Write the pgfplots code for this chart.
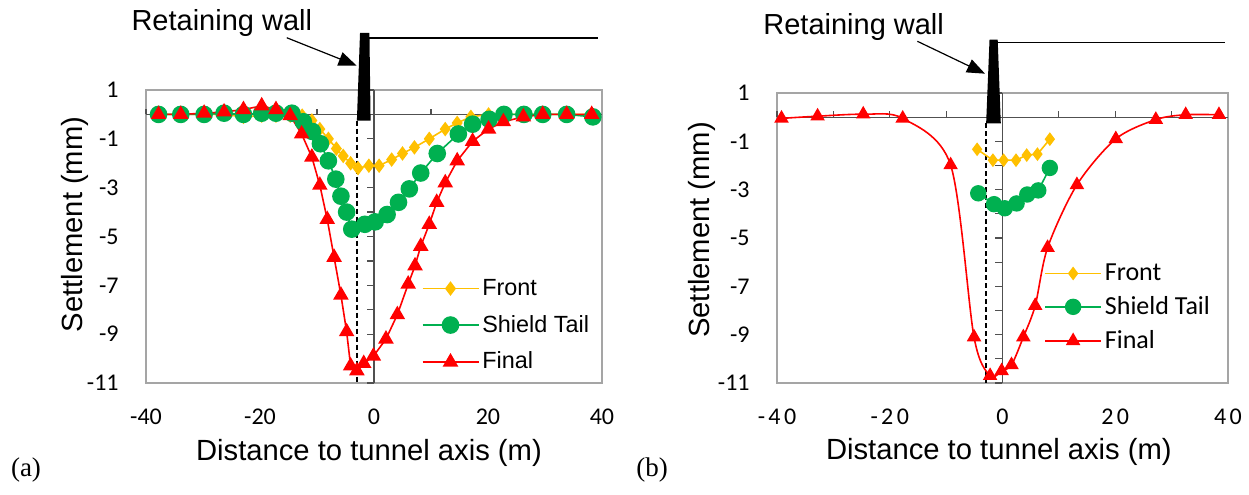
\documentclass[border=0pt]{standalone}
\usepackage{fontspec}
\setmainfont{Liberation Sans}
\newfontfamily\calib{Carlito}
\newfontfamily\serif{Liberation Serif}
\usepackage{pgfplots}
\pgfplotsset{compat=1.18}
\usetikzlibrary{arrows.meta}

\definecolor{cfront}{RGB}{255,192,0}
\definecolor{cshield}{RGB}{0,176,80}
\definecolor{cfinal}{RGB}{255,0,0}
\definecolor{cframe}{RGB}{165,165,165}
\definecolor{caxis}{RGB}{80,80,80}

\pgfplotsset{
  settle/.style={
    scale only axis, clip=false,
    xmin=-40, xmax=40, ymin=-11, ymax=1,
    axis line style={cframe, line width=0.6pt},
    major tick length=0pt,
    xtick={-40,-20,0,20,40},
    xticklabels={-40,-20,0,20,40},
    ytick={-11,-9,-7,-5,-3,-1,1},
    yticklabels={-11,-9,-7,-5,-3,-1,1},
    ticklabel style={font=\calib\fontsize{12}{14}\selectfont, inner sep=0pt},
    yticklabel style={anchor=east, xshift=-13.5pt},
    xticklabel style={anchor=north, yshift=-13pt},
    label style={font=\fontsize{14.6}{17}\selectfont},
    legend cell align=left,
    legend image code/.code={\draw[mark repeat=2,mark phase=2,#1]
      plot coordinates {(0pt,0pt) (14pt,0pt) (28pt,0pt)};},
  },
}

\begin{document}
\begin{tikzpicture}
\useasboundingbox (0,0) rectangle (624.5pt,247pt);

% ---------------- (a)
\begin{axis}[settle,
  at={(73pt,55.5pt)}, anchor=south west,
  width=228pt, height=146.5pt,
  xlabel={Distance to tunnel axis (m)},
  ylabel={Settlement (mm)},
  xlabel style={at={(axis description cs:0.489,-0.239)}, anchor=center},
  ylabel style={at={(axis description cs:-0.156,0.541)}, anchor=center},
  legend style={at={(axis cs:8.3,-6.6)}, anchor=north west, draw=none,
    fill=none, inner sep=0pt, row sep=5.5pt,
    font=\fontsize{11.7}{13}\selectfont, nodes={inner sep=1.5pt}},
]
\draw[caxis, line width=0.6pt] (axis cs:-40,0) -- (axis cs:40,0);
\draw[caxis, line width=0.6pt] (axis cs:0,-11) -- (axis cs:0,1);
\pgfplotsinvokeforeach{-40,-30,-20,-10,10,20,30}{
  \draw[caxis, line width=0.6pt] (axis cs:#1,0) -- ++(0pt,2.5pt);}
\pgfplotsinvokeforeach{-11,...,1}{
  \draw[caxis, line width=0.6pt] (axis cs:0,#1) -- ++(-3.5pt,0pt);}
\draw[black, line width=0.7pt, dash pattern=on 2.5pt off 1.5pt]
  (axis cs:-3,-0.25) -- (axis cs:-3,-11);

\addplot[cfront, line width=0.8pt, mark=diamond*, mark size=3pt,
  mark options={solid, fill=cfront}] coordinates {
  (-37.8,0) (-33.9,0) (-29.8,0) (-26.3,0) (-22.9,-0.1) (-19.7,-0.05)
  (-17.2,-0.05) (-14.7,-0.05) (-12.6,-0.05) (-10.9,-0.25) (-9.5,-0.6)
  (-8.0,-1.0) (-6.6,-1.4) (-5.4,-1.7) (-4.1,-2.0) (-2.8,-2.2) (-0.9,-2.1)
  (0.9,-2.1) (3.1,-1.85) (5.0,-1.6) (7.1,-1.35) (9.7,-1.0) (12.5,-0.6)
  (14.6,-0.35) (17.0,-0.1) (20.1,0) (22.7,0) (26.2,0) (29.6,0) (33.8,0)
  (38.2,0)};
\addlegendentry{Front}
\addplot[cshield, line width=0.8pt, mark=*, mark size=4pt,
  mark options={solid, fill=cshield}] coordinates {
  (-37.8,0) (-33.9,0) (-29.8,0) (-26.3,0.05) (-22.9,0) (-19.7,0.05)
  (-17.2,0.05) (-14.4,0.05) (-12.4,-0.3) (-10.8,-0.7) (-9.4,-1.2)
  (-8.0,-1.9) (-6.7,-2.65) (-5.8,-3.35) (-4.8,-4.0) (-3.9,-4.7)
  (-1.6,-4.5) (0.2,-4.4) (2.3,-4.1) (4.3,-3.6) (6.2,-3.05) (8.2,-2.4)
  (11.1,-1.6) (14.8,-0.8) (17.3,-0.4) (20.2,-0.2) (22.8,0) (26.3,0)
  (29.6,0) (33.8,0) (38.4,-0.1)};
\addlegendentry{Shield Tail}
\addplot[cfinal, line width=0.8pt, mark=triangle*, mark size=3.7pt,
  mark options={solid, fill=cfinal}] coordinates {
  (-37.8,0) (-33.9,0) (-29.8,0.05) (-26.3,0.1) (-22.9,0.2) (-19.7,0.35)
  (-17.2,0.2) (-14.7,-0.05) (-12.7,-0.8) (-10.9,-1.75) (-9.5,-2.9)
  (-8.2,-4.3) (-7.0,-5.85) (-5.8,-7.4) (-4.8,-8.9) (-4.1,-10.3)
  (-3.0,-10.5) (-1.8,-10.2) (-0.1,-9.9) (2.1,-9.2) (4.1,-8.2) (6.0,-6.95)
  (7.2,-6.2) (8.2,-5.4) (9.7,-4.5) (11.0,-3.6) (12.5,-2.8) (14.6,-1.9)
  (17.3,-1.1) (20.1,-0.6) (22.7,-0.3) (26.2,-0.1) (29.6,0) (33.8,0)
  (38.2,0)};
\addlegendentry{Final}

% retaining wall sketch
\fill[black] (axis cs:-3.0,-0.25) -- (axis cs:-2.45,3.34) --
  (axis cs:-0.8,3.34) -- (axis cs:-0.6,-0.25) -- cycle;
\draw[black, line width=0.75pt] (axis cs:-0.8,3.12) -- (axis cs:39.3,3.12);
\draw[black, line width=0.6pt, -{Triangle[length=9pt,width=7pt]}]
  (axis cs:-15.3,3.14) -- (axis cs:-3.05,2.0);
\node[anchor=base, inner sep=0pt, font=\fontsize{14.5}{17}\selectfont]
  at (axis cs:-26.7,3.43) {Retaining wall};
\end{axis}

% ---------------- (b)
\begin{axis}[settle,
  at={(388.5pt,55.5pt)}, anchor=south west,
  width=225.5pt, height=145pt,
  xticklabel style={font=\calib\fontsize{12}{14}\selectfont\addfontfeature{LetterSpace=14}},
  xlabel={Distance to tunnel axis (m)},
  ylabel={Settlement (mm)},
  xlabel style={at={(axis description cs:0.492,-0.237)}, anchor=center},
  ylabel style={at={(axis description cs:-0.167,0.528)}, anchor=center},
  legend style={at={(axis cs:7.35,-5.92)}, anchor=north west, draw=none,
    fill=none, inner sep=0pt, row sep=3.5pt,
    font=\calib\fontsize{13}{15}\selectfont, nodes={inner sep=1.5pt}},
]
\draw[caxis, line width=0.6pt] (axis cs:-40,0) -- (axis cs:40,0);
\draw[caxis, line width=0.6pt] (axis cs:0,-11) -- (axis cs:0,1);
\pgfplotsinvokeforeach{-40,-30,-20,-10,10,20,30}{
  \draw[caxis, line width=0.6pt] (axis cs:#1,0) -- ++(0pt,3pt);}
\pgfplotsinvokeforeach{-11,...,1}{
  \draw[caxis, line width=0.6pt] (axis cs:0,#1) -- ++(-3.5pt,0pt);}
\draw[black, line width=0.7pt, dash pattern=on 2.5pt off 1.5pt]
  (axis cs:-2.9,-0.26) -- (axis cs:-2.9,-11);

\addplot[cfront, line width=0.8pt, mark=diamond*, mark size=2.8pt,
  mark options={solid, fill=cfront}] coordinates {
  (-4.5,-1.33) (-1.7,-1.78) (0.2,-1.78) (2.4,-1.78) (4.3,-1.57)
  (6.2,-1.53) (8.4,-0.91)};
\addlegendentry{Front}
\addplot[cshield, line width=0.8pt, mark=*, mark size=3.7pt,
  mark options={solid, fill=cshield}] coordinates {
  (-4.3,-3.15) (-1.5,-3.6) (0.4,-3.77) (2.5,-3.57) (4.4,-3.2)
  (6.35,-3.03) (8.4,-2.1)};
\addlegendentry{Shield Tail}
\addplot[cfinal, line width=0.8pt, smooth, mark=triangle*, mark size=3.4pt,
  mark options={solid, fill=cfinal}] coordinates {
  (-39.2,-0.05) (-32.8,0.04) (-24.7,0.12) (-17.7,-0.05) (-9.2,-1.98)
  (-5.05,-9.1) (-2.2,-10.7) (-0.15,-10.5) (1.6,-10.25) (3.7,-9.1)
  (5.8,-7.8) (8.0,-5.4) (13.2,-2.8) (20.1,-0.9) (27.2,-0.1) (32.5,0.1)
  (38.4,0.1)};
\addlegendentry{Final}

\fill[black] (axis cs:-2.9,-0.26) -- (axis cs:-2.3,3.21) --
  (axis cs:-0.85,3.21) -- (axis cs:-0.3,-0.26) -- cycle;
\draw[black, line width=0.75pt] (axis cs:-0.85,3.1) -- (axis cs:39.5,3.1);
\draw[black, line width=0.6pt, -{Triangle[length=9pt,width=7pt]}]
  (axis cs:-15.1,3.14) -- (axis cs:-3.1,1.8);
\node[anchor=base, inner sep=0pt, font=\fontsize{14.5}{17}\selectfont]
  at (axis cs:-26.4,3.42) {Retaining wall};
\end{axis}

\node[font=\serif\fontsize{13.5}{15}\selectfont] at (13pt,12pt) {(a)};
\node[font=\serif\fontsize{13.5}{15}\selectfont] at (326pt,12pt) {(b)};
\end{tikzpicture}
\end{document}
